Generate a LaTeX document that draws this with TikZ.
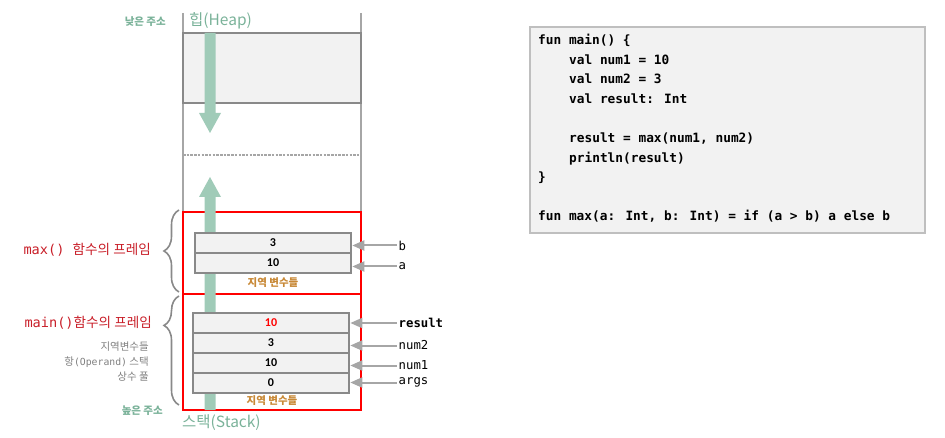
\documentclass[tikz,border=0pt]{standalone}
\usepackage{fontspec}
\usetikzlibrary{arrows.meta,decorations.pathreplacing}
\newfontfamily\kr{Noto Sans CJK KR}
\newfontfamily\krb{Noto Sans CJK KR Bold}
\newfontfamily\mono{DejaVu Sans Mono}
\newfontfamily\cellf{Carlito}
\definecolor{grn}{RGB}{160,203,184}
\definecolor{grntxt}{RGB}{122,178,153}
\definecolor{cellbd}{RGB}{137,137,137}
\definecolor{cellfill}{RGB}{242,242,242}
\definecolor{vline}{RGB}{166,166,166}
\definecolor{codebd}{RGB}{191,191,191}
\definecolor{framelbl}{RGB}{200,30,40}
\definecolor{graytxt}{RGB}{128,128,128}
\definecolor{orng}{RGB}{200,137,55}
\definecolor{redframe}{RGB}{255,0,0}
\begin{document}
\begin{tikzpicture}[x=1pt,y=-1pt,
  cell/.style={draw=cellbd,line width=2.6pt,fill=cellfill,minimum height=20pt,inner sep=0pt,
    font=\cellf\bfseries\fontsize{12}{14}\selectfont},
  frame/.style={draw=redframe,line width=2.8pt,inner sep=0pt,minimum width=178pt},
  ptr/.style={draw=vline,line width=2pt,-{Triangle[length=12pt,width=10pt]}},
  ptrlbl/.style={anchor=west,inner sep=1.5pt,font=\mono\fontsize{12.3}{14}\selectfont},
  locvar/.style={text=orng,inner sep=0pt,font=\kr\bfseries\fontsize{10.5}{12}\selectfont},
  codeline/.style={anchor=base west,inner sep=0pt,font=\mono\bfseries\fontsize{12.8}{15}\selectfont},
  grnlbl/.style={text=grntxt,inner sep=0pt},
  graylbl/.style={text=graytxt,inner sep=0pt,anchor=east},
  brc/.style={draw=cellbd,line width=1.6pt,decorate,decoration={brace,amplitude=15pt}},
]
\useasboundingbox (0,0) rectangle (945,438);

% vertical memory lines
\draw[vline,line width=2pt] (183,13) -- (183,212);
\draw[vline,line width=2pt] (361,13) -- (361,212);

% heap region
\node[draw=cellbd,line width=2.8pt,fill=cellfill,minimum width=178pt,minimum height=70pt,inner sep=0pt] (heap) at (272,68) {};
\fill[grn] (204.5,33) -- (215.5,33) -- (215.5,113) -- (221,113) -- (210,133) -- (199,113) -- (204.5,113) -- cycle;
\draw[vline,line width=1.5pt,dash pattern=on 2.5pt off 1.2pt] (183,155) -- (361,155);

% frames
\node[frame,minimum height=82pt] (maxf) at (272,253) {};
\node[frame,minimum height=116pt] (mainf) at (272,352) {};

% stack arrow
\fill[grn] (210,177) -- (221,197) -- (215.5,197) -- (215.5,410) -- (204.5,410) -- (204.5,197) -- (199,197) -- cycle;

% max() cells
\node[cell,minimum width=156pt] (mb) at (273,243) {3};
\node[cell,minimum width=156pt] (ma) at (273,263) {10};
\node[locvar] (lv1) at (273,282.5) {지역 변수들};

% main() cells
\node[cell,minimum width=156pt,text=red] (cres) at (271,323) {10};
\node[cell,minimum width=156pt] (cn2) at (271,343) {3};
\node[cell,minimum width=156pt] (cn1) at (271,363) {10};
\node[cell,minimum width=156pt] (cargs) at (271,383) {0};
\node[locvar] (lv2) at (272,400.5) {지역 변수들};

% pointer labels
\node[ptrlbl] (lb) at (397,245.5) {b};
\node[ptrlbl] (la) at (397,266.5) {a};
\node[ptrlbl,font=\mono\bfseries\fontsize{12.3}{14}\selectfont] (lres) at (397,323) {result};
\node[ptrlbl] (ln2) at (397,345.5) {num2};
\node[ptrlbl] (ln1) at (397,365.5) {num1};
\node[ptrlbl] (largs) at (397,382.5) {args};
\draw[ptr] (lb.west) -- (lb.west -| mb.east);
\draw[ptr] (la.west) -- (la.west -| ma.east);
\draw[ptr] (lres.west) -- (lres.west -| cres.east);
\draw[ptr] (ln2.west) -- (ln2.west -| cn2.east);
\draw[ptr] (ln1.west) -- (ln1.west -| cn1.east);
\draw[ptr] (largs.west) -- (largs.west -| cargs.east);

% braces
\coordinate (b1s) at (179,292);
\coordinate (b1e) at (179,210);
\coordinate (b2s) at (179,405);
\coordinate (b2e) at (179,296);
\draw[brc,decoration={aspect=0.5}] (b1s) -- (b1e);
\draw[brc,decoration={aspect=0.73}] (b2s) -- (b2e);

% left labels
\node[anchor=east,inner sep=0pt,text=framelbl,font=\fontsize{13.6}{15}\selectfont] (maxlbl) at (151,250) {\mono max() \kr 함수의 프레임};
\node[anchor=east,inner sep=0pt,text=framelbl,font=\fontsize{13.6}{15}\selectfont] (mainlbl) at (152,323) {\mono main()\kr 함수의 프레임};
\node[graylbl,font=\kr\fontsize{10.5}{12}\selectfont] (g1) at (149,347) {지역변수들};
\node[graylbl,font=\kr\fontsize{10.5}{12}\selectfont] (g2) at (149,362.5) {항{\mono\fontsize{9.8}{12}\selectfont(Operand)} 스택};
\node[graylbl,font=\kr\fontsize{10.5}{12}\selectfont] (g3) at (149,377) {상수 풀};

% address / region labels
\node[grnlbl,anchor=east,font=\kr\bfseries\fontsize{10.5}{12}\selectfont] (low) at (166,22) {낮은 주소};
\node[grnlbl,anchor=east,font=\kr\bfseries\fontsize{10.5}{12}\selectfont] (high) at (163,411) {높은 주소};
\node[grnlbl,anchor=west,font=\kr\fontsize{15.5}{17}\selectfont] (heaplbl) at (189,21) {힙(Heap)};
\node[grnlbl,anchor=west,font=\kr\fontsize{15.5}{17}\selectfont] (stacklbl) at (182,423) {스택(Stack)};

% code box
\node[draw=codebd,line width=2.2pt,fill=cellfill,minimum width=395pt,minimum height=206pt,inner sep=0pt] (codebox) at (727.5,130) {};
\node[codeline] (c1) at (538,44.6) {fun main() \{};
\node[codeline] (c2) at (569,64.2) {val num1 = 10};
\node[codeline] (c3) at (569,83.8) {val num2 = 3};
\node[codeline] (c4) at (569,103.4) {val result: Int};
\node[codeline] (c6) at (569,142.6) {result = max(num1, num2)};
\node[codeline] (c7) at (569,162.2) {println(result)};
\node[codeline] (c8) at (538,181.8) {\}};
\node[codeline] (c10) at (538,221) {fun max(a: Int, b: Int) = if (a > b) a else b};
\end{tikzpicture}
\end{document}
